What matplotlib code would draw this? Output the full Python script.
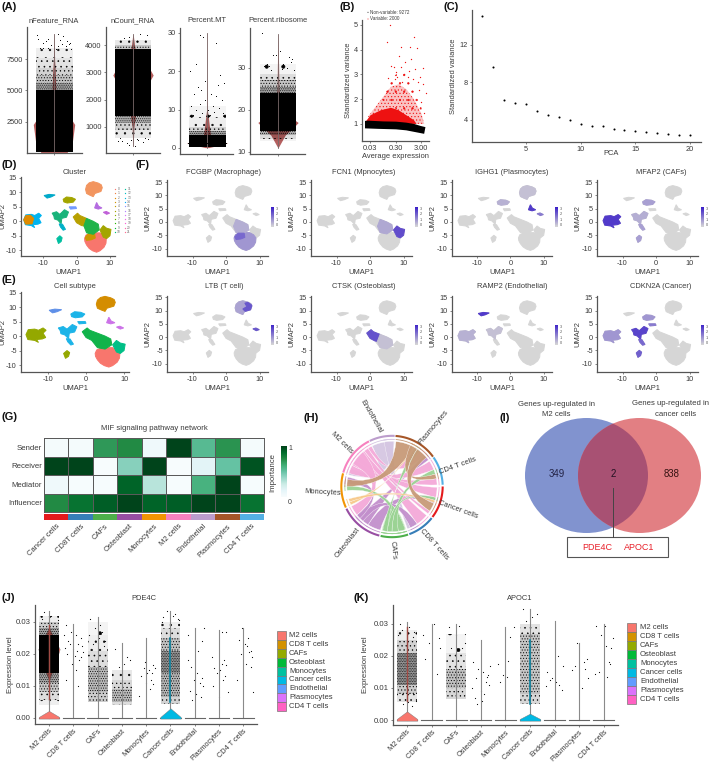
import numpy as np
import matplotlib
matplotlib.use("Agg")
import matplotlib.pyplot as plt
from matplotlib.patches import Ellipse, PathPatch, Rectangle
from matplotlib.path import Path
from matplotlib.colors import LinearSegmentedColormap, ListedColormap

plt.rcParams['font.family'] = ['Liberation Sans', 'DejaVu Sans']
plt.rcParams['hatch.linewidth'] = 0.4
plt.rcParams['axes.unicode_minus'] = False
W, H = 709, 762
INK = '#3a3a3a'
AXC = '#555555'

# ---------- (A) QC clouds: (low, high, stipple level; 0 = solid)
A_TITLES = ['nFeature_RNA', 'nCount_RNA', 'Percent.MT', 'Percent.ribosome']
A_YTICKS = [[2500, 5000, 7500], [1000, 2000, 3000, 4000], [0, 10, 20, 30], [10, 20, 30]]
A_BANDS = [
    [(150, 5000, 0), (5000, 5600, 16), (5600, 6200, 11), (6200, 6800, 8), (6800, 7600, 5), (7600, 8400, 3)],
    [(1400, 3850, 0), (1150, 1400, 14), (900, 1150, 8), (600, 900, 4), (3850, 4000, 10), (4000, 4180, 4)],
    [(0.2, 3.5, 0), (3.5, 4.5, 16), (4.5, 5.5, 8), (5.5, 8, 3), (8, 11, 2)],
    [(15, 24, 0), (24, 25.5, 16), (25.5, 27, 10), (27, 28.5, 6), (28.5, 31, 2), (14, 15, 14), (13, 14, 6), (12.5, 13, 2)],
]
A_VIOLIN_Y = [[40, 1000, 2300, 3500, 5000, 6500, 7500, 9500],
              [300, 1000, 1700, 2400, 2900, 3400, 3900, 4400],
              [0.1, 1.0, 1.3, 1.6, 3, 10, 20, 30],
              [11, 14, 16, 17, 18, 20, 25, 38]]
A_VIOLIN_W = [[.7, 1.0, 1.12, .6, .1, .07, .03, .01],
              [.01, .05, .2, .7, 1.12, .7, .1, .01],
              [.1, .9, 1.12, .8, .2, .02, .01, .01],
              [.01, .4, .9, 1.12, .8, .2, .05, .01]]
A_OUT_X = [[-.9, -.3, .5, .8, -.6, .2, -.75, .35, .65, -.15, .9, -.45, .1, -.85, .7, -.3, .45, -.6, .85, 0.2],
           [.4, -.2, .75, -.5, .1, -.2, .55, -.6, -.85, .85, -.35, .3, .65, -.7, .2, -.1],
           [-.4, -.2, .5, -.6, -.9, .7, -.1, -.5, .9, .6, -.3, .2, .5, -.7, -.1, .8, -.4, .3, -.85, .05, .65, -.6, .4, -.25, .85, -.75, .15],
           [-.9, .1, -.1, -.3, .6, .8, .3, -.6, -.8, .5, .9, -.4, .2, .7, -.5]]
A_OUT_Y = [[9400, 9100, 9300, 8700, 8800, 8500, 8400, 9000, 8500, 8600, 8300, 8900, 8300, 9100, 8900, 8400, 8700, 8350, 8800, 9500],
           [4400, 4300, 4350, 4250, 300, 350, 450, 480, 500, 550, 420, 520, 600, 580, 560, 530],
           [29.5, 29, 27.5, 22, 20, 19, 17.5, 16, 17, 16.5, 15, 14, 13.5, 14, 12.5, 12.5, 11.5, 11, 11, 10, 10.5, 10, 9.5, 9, 9, 8.5, 8.5],
           [38.3, 34, 33, 33, 32.5, 32, 31, 31, 30.5, 30, 29.5, 29.5, 29.8, 31.5, 30.5]]

# ---------- (B) variable genes: log10 mean expression against variance
B_BLACK_X = [-1.72, -1.6, -1.0, -.5, -.1, .2, .45, .65, .6, .3, -.1, -.5, -1.2, -1.72]
B_BLACK_Y = [1.12, 1.13, 1.1, 1.09, 1.05, 1.0, .92, .87, .6, .66, .74, .78, .8, .82]
B_RED_X = [-1.72, -1.5, -1.1, -.7, -.4, -.1, .2, .3, -1.72]
B_RED_Y = [1.05, 1.35, 1.55, 1.65, 1.55, 1.35, 1.15, 1.0, 1.0]
B_RED2_X = [-1.6, -1.3, -1.0, -.7, -.4, -.1, .2, .5, .6, -1.3]
B_RED2_Y = [1.3, 1.7, 2.1, 2.5, 2.6, 2.4, 2.0, 1.4, 1.0, 1.0]
B_RED3_X = [-1.1, -.8, -.5, -.2, .1, .4, .55, -.5]
B_RED3_Y = [2.0, 2.7, 3.0, 3.1, 2.9, 2.3, 1.3, 1.6]
B_OUT_X = [-.74, -.87, .2, .05, -.32, .67, .57, -.4, -.6, -.15, .3, .1, -.5, -.3, -.7, 0, .25, .45, .55, -.2, -.45, -.55, .35, .15, -.05, .4, .6, -.25, -.8, .48]
B_OUT_Y = [5.0, 4.3, 4.5, 4.1, 4.1, 2.25, 3.25, 3.75, 3.3, 3.5, 4.05, 3.6, 3.1, 3.3, 3.35, 3.15, 3.2, 2.9, 2.6, 3.0, 2.9, 2.8, 2.7, 2.8, 2.9, 2.35, 1.45, 2.7, 2.85, 1.9]

# ---------- (C) elbow plot
C_PC = list(range(1, 21))
C_SD = [15.1, 9.6, 6.1, 5.85, 5.7, 4.9, 4.55, 4.35, 4.0, 3.55, 3.4, 3.35, 3.05, 2.9, 2.85, 2.7, 2.65, 2.5, 2.4, 2.4]

# ---------- (D,E,F) UMAP islands, outlines
caf = [(-15.8, .5), (-15.2, 2.2), (-13.5, 2.4), (-12.5, 2.0), (-11.3, 2.8), (-10.5, 2.0), (-11.3, 1.0), (-10.6, -.5), (-11.5, -1.0), (-13, -1.2), (-12.5, -2.2), (-13.5, -1.5), (-15.3, -1.2)]
caf_core = [(-15.8, .5), (-15.2, 1.9), (-13.8, 2.1), (-12.8, 1.0), (-13.3, -.9), (-15.2, -1.0)]
tcell = [(2.7, 11), (3.0, 12.4), (3.8, 13.3), (5, 13.7), (6.5, 13.2), (7.4, 12.6), (7.7, 11.6), (7.3, 10.3), (5.5, 9.6), (5, 8.5), (4, 9), (3, 9.6)]
tcell_r = [(5.6, 12.8), (6.5, 13.1), (7.7, 12), (7.3, 10.3), (5.7, 9.7), (5.0, 10.6), (6.2, 11.5)]
cancer = [(2.4, -6), (2.8, -4.8), (3.8, -4.2), (5.4, -4), (7, -4), (8.2, -4.8), (8.9, -6), (8.8, -7.6), (8.2, -9), (7, -10.2), (6, -10.7), (4.8, -10.2), (3.8, -9.4), (3, -8.2), (2.5, -7)]
mac_left = [(2.6, -5.6), (3.6, -4.2), (5.4, -4.2), (5.6, -5.8), (4.4, -6.4), (3, -6.6)]
m2 = [(-1, 1.5), (.3, 2.8), (1, 2), (3, 1), (5, 0), (6.5, -1), (6.8, -3), (5, -4.5), (3, -4), (1.5, -1.5), (0, -.5)]
m2_up = [(-1, 1.5), (.3, 2.8), (1, 2), (3, 1), (3.4, -1.8), (1.5, -1.5), (0, -.5)]
m2_low = [(3, 1), (5, 0), (6.5, -1), (6.8, -3), (5, -4.5), (3, -4), (2.2, -1.6)]
mono = [(7, -3), (8, -1.5), (9, -2.4), (10.3, -2.8), (10, -5), (9, -6), (8, -5.5)]
cy_top = [(-4, 7.6), (-3, 8.4), (-1.4, 8.2), (-.3, 7.6), (-1, 6.6), (-2.8, 6.3), (-3.8, 6.7)]
cy_mid = [(-7.3, 2.8), (-6, 3.3), (-5, 2.4), (-3.6, 4), (-2.4, 3.2), (-3, 1.4), (-4.4, 1), (-4.6, -.9), (-5.6, .4), (-6.6, .8), (-6.8, 1.9)]
cy_tail = [(-5.2, -.9), (-4.2, -1), (-3.3, -2.8), (-4, -3.1), (-4.8, -2)]
cy_side = [(-2.2, 5), (-.2, 5), (.0, 4.4), (-1.8, 4.2)]
endo = [(-9.7, 8.9), (-8.2, 9.3), (-6.4, 9.1), (-7.6, 8.4), (-8.8, 8)]
cafs2 = [(-5.9, -6), (-5, -5), (-4.3, -5.7), (-4.6, -7), (-5.4, -7.7)]
plas1 = [(5.4, 4.6), (6, 6.5), (6.6, 5.2), (7.6, 4.6), (6.5, 4.2)]
plas2 = [(8, 3.1), (8.9, 3.4), (9.9, 2.8), (9, 2.4)]
BASE_ISLANDS = [caf, tcell, cancer, m2, mono, cy_top, cy_mid, cy_tail, cy_side, endo, cafs2, plas1, plas2]

D_ISLANDS = [caf, caf_core, tcell, cancer, mac_left, m2_up, m2_low, mono, cy_top, cy_mid, cy_tail, cy_side, endo, cafs2, plas1, plas2]
D_COLORS = ['#00b4f0', '#e08b00', '#f2955f', '#f8766d', '#c99700', '#b8a000', '#1fb34a', '#a3a500', '#a3a500', '#19b37a', '#00b0c8', '#7099ff', '#00a9c9', '#00bfa0', '#b46be0', '#c060d8']
E_ISLANDS = [caf, tcell, cancer, m2, mono, cy_top, cy_mid, cy_tail, cy_side, endo, cafs2, plas1, plas2]
E_COLORS = ['#94a800', '#d48d00', '#f8766d', '#10b34a', '#00bf86', '#1cb4e8', '#1cb4e8', '#1cb4e8', '#1cb4e8', '#5e8fe8', '#94a800', '#cc72e8', '#cc72e8']

F_TITLES = ['FCGBP (Macrophage)', 'FCN1 (Mpnocytes)', 'IGHG1 (Plasmocytes)', 'MFAP2 (CAFs)',
            'LTB (T cell)', 'CTSK (Osteoblast)', 'RAMP2 (Endothelial)', 'CDKN2A (Cancer)']
F_LEVELS = [
    [(cancer, .35), (m2_low, .22), (mac_left, .6)],
    [(m2_low, .25), (mono, .75)],
    [(tcell, .12), (cy_top, .2), (plas1, .85), (plas2, .5)],
    [(caf, .85), (cy_mid, .22), (cy_top, .3), (cy_tail, .3), (cafs2, .3)],
    [(tcell, .28), (tcell_r, .7), (plas2, .7)],
    [(m2_up, .72), (m2_low, .12)],
    [(endo, .85), (caf, .2), (cy_mid, .12)],
    [(cy_mid, .8), (cy_tail, .6), (cafs2, .65), (caf, .35), (cy_top, .35), (cy_side, .5)],
]

CLUSTER_COLORS = ['#f8766d', '#ee8042', '#e18a00', '#d09400', '#be9c00', '#a8a400', '#8cab00', '#5bb300', '#24b700', '#00ba38',
                  '#00be70', '#00c097', '#00bfc4', '#00bbda', '#00acfc', '#8b93ff', '#b385ff', '#d575fe', '#ef67eb', '#fb61d7', '#ff65ae', '#ff6c91']

# ---------- (G) signalling roles
G_ROLES = ['Sender', 'Receiver', 'Mediator', 'Influencer']
G_CELLS = ['Cancer cells', 'CD8T cells', 'CAFs', 'Osteoblast', 'Monocytes', 'M2 cells', 'Endothelial', 'Plasmocytes', 'CD4 T cells']
G_SENDER = [.02, .02, .7, .75, .06, 1, .55, .72, .02]
G_RECEIVER = [1, 1, 0, .42, 1, 0, .14, .5, .95]
G_MEDIATOR = [.06, .01, .01, .9, .3, .01, .6, 1, .01]
G_INFLUENCER = [.75, .85, .92, 1, .9, .92, 1, 1, .85]
G_COLORS = ['#e41a1c', '#377eb8', '#4daf4a', '#984ea3', '#f29403', '#f781bf', '#bc9dcc', '#a65628', '#54b0e4']

# ---------- (H) chord sectors and ribbons, in degrees
H_NAMES = ['Cancer cells', 'CD8 T cells', 'CAFs', 'Osteoblast', 'Monocytes', 'M2 cells', 'Endothelial', 'Plasmocytes', 'CD4 T cells']
H_START = [0, -38.5, -71.5, -104.5, -155.5, 164, 116, 86, 35]
H_END = [-37, -70, -103, -154, -195, 117, 87, 36, 2]
H_LABEL_X = [458, 434, 393, 348, 323, 342, 370.7, 433, 458]
H_LABEL_Y = [510, 544, 550, 543, 492, 443, 416.7, 427, 466]
H_LABEL_ROT = [-20, -48, -85, 52, -3, -45, -60, 50, 20]
PINK, LAV, BRN, GRN, PUR, ORG = '#f4a9d8', '#d5c6e2', '#c79a78', '#9bd394', '#c28fcc', '#f7c98a'
H_RIBBONS = [
    (LAV, 116, 87, 165, 156), (LAV, 100, 88, -66, -70),
    (PUR, -105, -122, -14, -22), (PUR, -122, -138, 36, 44), (PUR, -130, -140, -56, -66), (PUR, -135, -141, -183, -192),
    (PINK, 163, 152, 34, 22), (PINK, 152, 144, 10, 2), (PINK, 144, 136, -1, -14), (PINK, 136, 128, -40, -56),
    (PINK, 128, 122, -33, -37), (PINK, 122, 117, 44, 60), (PINK, 150, 130, -141, -154),
    (GRN, -73, -82, -175, -181), (GRN, -82, -90, 22, 16), (GRN, -90, -96, -14, -18), (GRN, -96, -102, 52, 60),
    (ORG, -156, -160, 61, 64), (ORG, -160, -164, -18, -21),
    (BRN, 85, 62, 180, 171), (BRN, 66, 56, 16, 10), (BRN, 56, 40, -22, -33),
]

# ---------- (I) Venn
I_COUNTS = [349, 2, 838]

# ---------- (J,K) violins
VL_CELLS = ['M2 cells', 'CD8 T cells', 'CAFs', 'Osteoblast', 'Monocytes', 'Cancer cells', 'Endothelial', 'Plasmocytes', 'CD4 T cells']
VL_COLORS = ['#f8766d', '#d39200', '#93aa00', '#00ba38', '#00c19f', '#00b9e3', '#619cff', '#db72fb', '#ff61c3']
J_MAX = [.0335, .0295, .0315, .0235, .025, .0335, .028, .0275, .028]
K_MAX = [.0305, .030, .030, .025, .029, .0345, .031, .024, .030]
J_BANDS = [
    [(.014, .026, 0), (.026, .028, 16), (.028, .03, 9), (.03, .032, 3), (.011, .014, 16), (.008, .011, 10), (.0055, .008, 6), (.004, .0055, 3)],
    [], [(.008, .016, 12), (.005, .008, 9), (.016, .021, 6), (.021, .026, 3), (.026, .03, 2)], [(.005, .009, 12), (.004, .005, 6), (.009, .012, 7), (.012, .015, 4)], [],
    [(.014, .021, 18), (.0065, .014, 13), (.0045, .0065, 8), (.021, .025, 11), (.025, .028, 6), (.028, .03, 3)], [], [], [],
]
K_BANDS = [
    [(.011, .021, 18), (.008, .011, 9), (.0055, .008, 5), (.021, .025, 8), (.025, .028, 3)],
    [], [(.01, .016, 11), (.0065, .01, 7), (.016, .021, 5), (.021, .027, 2)], [], [],
    [(.008, .027, 10), (.005, .008, 7), (.027, .03, 5)], [], [], [],
]
J_SPARSE_DX = [[-.3, .1, .35, -.2], [-.3, -.1, .1, .3, -.2, .2, .35, -.35, 0, .15, -.25, .05, .3, -.15, .25, -.05, .38, .12, -.3, .2, -.38],
               [-.3, .1, -.1, .2, -.35, .05, .3, -.2, .25, 0], [-.3, .2, .35, -.1, .1], [-.1, .1, .3, .25, -.2, .05, .38, -.3, 0, .2, .15, -.05, .3],
               [-.3, .1, .3, -.15, .35, -.35, .2], [-.3, -.15, .1, .3, -.05, .2, .35, -.2, .05, .25, -.1, .15, .3, -.3, .38],
               [-.3, .2, .1, .3, -.2, .05, -.1, .25, .15, -.25, .35, 0, .1, .3], [-.2, .05, .15, .3, -.1, .2, .25, -.05, .35, .1, .3, -.25, .38]]
J_SPARSE_Y = [[.031, .032, .0305, .033], [.029, .027, .026, .025, .024, .023, .0225, .022, .0215, .021, .02, .0195, .019, .023, .018, .017, .0205, .015, .012, .01, .026],
              [.031, .029, .028, .027, .026, .025, .024, .023, .0225, .0235], [.0215, .019, .018, .016, .017], [.0155, .015, .0165, .014, .013, .014, .0155, .007, .011, .012, .009, .0175, .0105],
              [.0315, .032, .031, .0335, .0305, .03, .0325], [.018, .016, .014, .0125, .012, .011, .01, .0085, .0075, .0065, .0055, .021, .024, .026, .028],
              [.019, .018, .017, .0165, .0155, .015, .014, .013, .012, .01, .008, .0065, .027, .027], [.0245, .023, .0225, .021, .02, .025, .0205, .028, .019, .017, .016, .012, .008]]
K_SPARSE_DX = [[-.3, .1, .3, -.2, .25, -.35, .05, .2, -.15, .35], [-.35, -.1, .1, .3, -.25, .2, .35],
               [-.3, .1, .35, -.2, .25, 0], [-.3, -.1, .1, .3, -.2, .2, .35, -.35, 0, .15, -.25, .05, .38, -.15, .25], [-.3, .1, -.1, .35, .2, -.2, .05],
               [-.3, .3, .1, -.15], [-.3, -.1, .05, .2, -.35, .3, .15, -.2, .35], [-.3, .2, .3, -.15, .25, -.1, .1, .38], [-.3, -.1, .1, .3, .2, .38, -.2, .25, -.35, .05, .15]]
K_SPARSE_Y = [[.03, .029, .0275, .028, .026, .0265, .0055, .0045, .005, .006], [.0265, .024, .03, .0255, .019, .0145, .0225],
              [.029, .0295, .024, .0225, .0225, .0265], [.018, .016, .015, .014, .013, .012, .011, .01, .009, .008, .007, .006, .017, .005, .0135], [.0175, .0185, .014, .029, .026, .012, .0135],
              [.0345, .033, .032, .031], [.015, .013, .012, .011, .0105, .0095, .02, .0125, .017], [.0155, .018, .019, .017, .016, .024, .01, .013], [.0295, .0265, .023, .0225, .018, .0255, .015, .0175, .0145, .0295, .0135]]

fig = plt.figure(figsize=(W / 100, H / 100), dpi=100, facecolor='white')


def ax_px(l, t, r, b, **kw):
    return fig.add_axes([l / W, 1 - b / H, (r - l) / W, (b - t) / H], **kw)


def style(ax, size=5.3):
    for s in ('top', 'right'):
        ax.spines[s].set_visible(False)
    for s in ('left', 'bottom'):
        ax.spines[s].set_color(AXC)
        ax.spines[s].set_linewidth(.9)
    ax.tick_params(length=1.5, width=.5, color=AXC, labelsize=size, labelcolor=INK, pad=1.5)
    ax.patch.set_alpha(0)


def bands(ax, x0, hw, spec, color='black', z=2):
    for lo, hi, n in spec:
        if n == 0:
            ax.bar(x0, hi - lo, bottom=lo, width=2 * hw, color=color, lw=0, zorder=z)
        else:
            ax.bar(x0, hi - lo, bottom=lo, width=2 * hw, facecolor=(0, 0, 0, n / 45), edgecolor=color,
                   hatch='.' * max(1, round(n * .55)), lw=0, zorder=z)


ov = ax_px(0, 0, W, H)
ov.set_xlim(0, W)
ov.set_ylim(H, 0)
ov.axis('off')
ov.set_zorder(5)


def T(x, y, s, size=5.4, **kw):
    kw.setdefault('ha', 'center')
    kw.setdefault('va', 'center')
    kw.setdefault('color', INK)
    ov.text(x, y, s, fontsize=size, **kw)


for s, x, y in [('(A)', 1, 7), ('(B)', 340, 7), ('(C)', 443, 7), ('(D)', 1, 165), ('(E)', 1, 280), ('(F)', 135, 165),
                ('(G)', 1, 417), ('(H)', 304, 418), ('(I)', 500, 418), ('(J)', 1, 598), ('(K)', 354, 598)]:
    T(x, y, s, size=8, ha='left', weight='bold', color='#111111')

# ----- A
A_BOX = [(27, 27, 82, 153, 54, 18.5, (39, 10040)), (106, 27, 160, 153, 133, 18, (48, 4660)),
         (180, 28, 233, 154, 207, 18.5, (-1.57, 31.3)), (250, 28, 305, 154, 278, 18, (9.5, 39.5))]
for i, (l, t, r, b, c, h, yl) in enumerate(A_BOX):
    ax = ax_px(l, t, r, b)
    style(ax)
    ax.fill_betweenx(A_VIOLIN_Y[i], -np.array(A_VIOLIN_W[i]), A_VIOLIN_W[i], color='#b5605f', lw=0, zorder=1)
    bands(ax, 0, 1, A_BANDS[i])
    ax.scatter(A_OUT_X[i], A_OUT_Y[i], s=.5, c='black', lw=0, zorder=2)
    ax.plot([0, 0], [A_VIOLIN_Y[i][0], A_VIOLIN_Y[i][-1]], color='#7a6a6a', lw=.6, zorder=3)
    if i == 2:
        ax.plot([-1.05, 1.05], [1.3, 1.3], color='black', lw=.7, zorder=3)
    ax.set_xlim((l - c) / h, (r - c) / h)
    ax.set_ylim(*yl)
    ax.set_yticks(A_YTICKS[i])
    ax.set_xticks([0])
    ax.set_xticklabels([])
    T((l + r) / 2 + (c - (l + r) / 2) * .9, 20.5, A_TITLES[i])

# ----- B
ax = ax_px(362, 20, 429, 141)
style(ax)
ax.set_xscale('log')
pw = lambda v: 10 ** np.array(v)
ax.fill(pw(B_RED3_X), B_RED3_Y, facecolor='none', edgecolor='#ee1111', hatch='.' * 2, lw=0, zorder=1)
ax.fill(pw(B_RED2_X), B_RED2_Y, facecolor=(.93, .07, .07, .25), edgecolor='#ee1111', hatch='.' * 5, lw=0, zorder=1)
ax.fill(pw(B_RED_X), B_RED_Y, color='#ee1111', lw=0, zorder=2)
ax.scatter(pw(B_OUT_X), B_OUT_Y, s=.9, c='#ee1111', lw=0, zorder=2)
ax.fill(pw(B_BLACK_X), B_BLACK_Y, color='black', lw=0, zorder=3)
ax.set_xlim(10 ** -1.837, 10 ** .79)
ax.set_ylim(.31, 5.19)
ax.set_yticks([1, 2, 3, 4, 5])
ax.set_xticks([.03, .3, 3])
ax.set_xticklabels(['0.03', '0.30', '3.00'])
ax.minorticks_off()
ax.set_xlabel('Average expression', fontsize=5.4, color=INK, labelpad=.5)
ax.set_ylabel('Standardized variance', fontsize=5.4, color=INK, labelpad=1.5)
T(370, 12.3, 'Non-variable: 9272', size=3.3, ha='left')
T(370, 19, 'Variable: 2000', size=3.3, ha='left')
ov.scatter([368, 368], [12.3, 19], s=.5, c=['black', '#ee1111'], lw=0)

# ----- C
ax = ax_px(472, 10, 701, 142)
style(ax)
ax.scatter(C_PC, C_SD, s=2.2, c='black', lw=0)
ax.set_xlim(.06, 21)
ax.set_ylim(1.65, 15.7)
ax.set_yticks([4, 8, 12])
ax.set_xticks([5, 10, 15, 20])
T(611, 153.5, 'PCA')
ax.set_ylabel('Standardized variance', fontsize=5.4, color=INK, labelpad=2)


def umap(ax, xl, yl, ypad=.5):
    style(ax)
    ax.set_xlim(*xl)
    ax.set_ylim(*yl)
    ax.set_xticks([-10, 0, 10])
    ax.set_yticks([-10, -5, 0, 5, 10, 15])
    ax.set_xlabel('UMAP1', fontsize=5.4, color=INK, labelpad=1.5)
    ax.set_ylabel('UMAP2', fontsize=5.4, color=INK, labelpad=ypad)


def island(ax, pts, color, z=2):
    xs, ys = zip(*pts)
    ax.fill(xs, ys, color=color, lw=.7, zorder=z)


# ----- D
ax = ax_px(21, 177, 115, 256)
umap(ax, (-16.6, 11.5), (-12, 15.3), -.5)
for p, c in zip(D_ISLANDS, D_COLORS):
    island(ax, p, c)
T(75, 173, 'Cluster')
for k, c in enumerate(CLUSTER_COLORS):
    col, row = k // 11, k % 11
    x = 114.5 + col * 10.5
    y = 189 + row * 4.3
    ov.scatter([x], [y], s=.9, c=c, lw=0)
    T(x + 4, y, str(k), size=2.3, color='#666666')

# ----- E
ax = ax_px(21, 292, 129, 372)
umap(ax, (-17.1, 11.3), (-12.4, 15.2), -.5)
for p, c in zip(E_ISLANDS, E_COLORS):
    island(ax, p, c)
T(75, 287, 'Cell subtype')

# ----- F
F_COLS = [(167, 268, 224, 271), (311, 412, 364, 415), (452, 552, 512, 555), (597, 698, 661, 701)]
F_ROWS = [(180, 256, 172, 207, (-12.8, 15.8)), (296, 372, 287, 325, (-13.2, 15.5))]
fcmap = LinearSegmentedColormap.from_list('feat', ['#d6d6d6', '#3a1fc8'])
for k, title in enumerate(F_TITLES):
    l, r, cx, cbx = F_COLS[k % 4]
    t, b, ty, cby, yl = F_ROWS[k // 4]
    ax = ax_px(l, t, r, b)
    umap(ax, (-17.6, 12.5), yl)
    for p in BASE_ISLANDS:
        island(ax, p, '#d6d6d6')
    for p, lev in F_LEVELS[k]:
        island(ax, p, fcmap(lev), z=3)
    T(cx, ty, title)
    cb = ax_px(cbx, cby, cbx + 3, cby + 20)
    cb.imshow(np.linspace(1, 0, 32)[:, None], aspect='auto', cmap=fcmap, vmin=0, vmax=1)
    cb.axis('off')
    for j, lab in enumerate(['3', '2', '1', '0']):
        T(cbx + 5.5, cby + 2 + j * 5.3, lab, size=2.8, color='#555555')

# ----- G
ax = ax_px(44, 438, 264, 512)
G_VALUES = np.array([G_SENDER, G_RECEIVER, G_MEDIATOR, G_INFLUENCER])
ax.pcolormesh(G_VALUES, cmap='BuGn', vmin=0, vmax=1, edgecolors='#5a5a5a', linewidth=.6)
ax.invert_yaxis()
ax.set_yticks(np.arange(4) + .5)
ax.set_yticklabels(G_ROLES)
ax.set_xticks([])
ax.tick_params(length=0, labelsize=5.6, labelcolor=INK, pad=1.5)
for s in ax.spines.values():
    s.set_color('#5a5a5a')
    s.set_linewidth(.7)
st = ax_px(44, 514, 264, 520)
st.pcolormesh([list(range(9))], cmap=ListedColormap(G_COLORS), vmin=-.5, vmax=8.5)
for s in st.spines.values():
    s.set_visible(False)
st.set_yticks([])
st.set_xticks(np.arange(9) + .5)
st.set_xticklabels(G_CELLS, rotation=45, ha='right', va='top', rotation_mode='anchor')
st.tick_params(length=0, labelsize=5.5, labelcolor=INK, pad=2)
T(154, 429, 'MIF signaling pathway network', size=5.6)
cb = ax_px(281, 446, 287, 497)
cb.imshow(np.linspace(1, 0, 64)[:, None], aspect='auto', cmap='BuGn', vmin=0, vmax=1)
cb.axis('off')
T(273, 473, 'Importance', rotation=90, size=5.6)
T(290, 448, '1', size=5)
T(290, 503, '0', size=5)

# ----- H
ax = ax_px(332, 426.5, 452, 546.5)
ax.set_xlim(-1.184, 1.184)
ax.set_ylim(-1.184, 1.184)
ax.axis('off')


def arc(a, b, r=1.0, n=24):
    th = np.radians(np.linspace(a, b, n))
    return np.c_[r * np.cos(th), r * np.sin(th)]


def ribbon(ax, col, a1, a2, b1, b2):
    pa, pb = arc(a1, a2, R_IN), arc(b1, b2, R_IN)
    v = list(pa) + [(0, 0), pb[0]] + list(pb[1:]) + [(0, 0), pa[0]]
    c = [Path.MOVETO] + [Path.LINETO] * (len(pa) - 1) + [Path.CURVE3, Path.CURVE3] + [Path.LINETO] * (len(pb) - 1) + [Path.CURVE3, Path.CURVE3]
    ax.add_patch(PathPatch(Path(v, c), facecolor=col, edgecolor='white', lw=.25, alpha=.95))
    for x0, x1 in ((a1, a2), (b1, b2)):
        xy = arc(x0, x1, .93, 8)
        ax.plot(xy[:, 0], xy[:, 1], color=col, lw=.6)


R_IN = .89
ribbon(ax, GRN, -72, -103, -72, -103)
for r in H_RIBBONS:
    ribbon(ax, *r)
for i, name in enumerate(H_NAMES):
    xy = arc(H_START[i], H_END[i])
    ax.plot(xy[:, 0], xy[:, 1], color=G_COLORS[i], lw=1.5, solid_capstyle='butt')
    T(H_LABEL_X[i], H_LABEL_Y[i], name, size=5.4, rotation=H_LABEL_ROT[i], rotation_mode='anchor')

# ----- I
e1 = Ellipse((586.5, 475.5), 123, 115, facecolor='#8193cf', lw=0)
e2 = Ellipse((639.5, 475.5), 123, 115, facecolor='#e27f83', lw=0)
ov.add_patch(e1)
ov.add_patch(e2)
e3 = Ellipse((586.5, 475.5), 123, 115, facecolor='#a85173', lw=0)
ov.add_patch(e3)
e3.set_clip_path(Ellipse((639.5, 475.5), 123, 115, transform=ov.transData))
T(557, 474, str(I_COUNTS[0]), size=6.9, color='#222244')
T(613, 474, str(I_COUNTS[1]), size=6.9, color='#221122')
T(672, 474, str(I_COUNTS[2]), size=6.9, color='#331111')
ov.plot([613, 613], [488, 537], color='#444444', lw=.7)
ov.add_patch(Rectangle((567, 537), 101, 20, facecolor='white', edgecolor='#555555', lw=.8))
T(597, 547.5, 'PDE4C', size=6.5, color='#e8202a')
T(639, 547.5, 'APOC1', size=6.5, color='#e8202a')
T(556, 404, 'Genes up-regulated in', size=5.6)
T(556, 414.5, 'M2 cells', size=5.6)
T(671, 403.5, 'Genes up-regulated in', size=5.6)
T(676, 414.5, 'cancer cells', size=5.6)


# ----- J, K
def violin(box, title, tx, ylim, xlim, maxes, bnds, dx, dy, ylab, base, legend):
    ax = ax_px(*box)
    style(ax, 5.6)
    for i in range(9):
        ax.plot([i, i], [0, maxes[i]], color='#8a8a8a', lw=.8, zorder=3)
        ax.plot([i - .42, i + .42], [0, 0], color='#666666', lw=.8, zorder=3)
        bands(ax, i, .41, bnds[i])
        ax.scatter(i + np.array(dx[i]), dy[i], s=.7, c='black', lw=0, zorder=2)
    for i, ys, ws in base:
        ax.fill_betweenx(ys, i - np.array(ws), i + np.array(ws), facecolor=VL_COLORS[i], edgecolor='#777777', lw=.3, zorder=4 if ys[-1] < .01 else 1)
    ax.plot([0, 0], [.006, .029], color='#a04a44', lw=1, zorder=3)
    ax.plot([5, 5], [.005, .025], color='#00809f', lw=1.1, zorder=3)
    ax.set_xlim(*xlim)
    ax.set_ylim(*ylim)
    ax.set_yticks([0, .01, .02, .03])
    ax.set_yticklabels(['0.00', '0.01', '0.02', '0.03'])
    ax.set_xticks(range(9))
    ax.set_xticklabels(VL_CELLS, rotation=45, ha='right', va='top', rotation_mode='anchor')
    ax.tick_params(axis='x', labelsize=5.3, pad=1)
    ax.set_ylabel('Expression level', fontsize=5.6, color=INK, labelpad=ylab)
    T(tx, 598, title, size=5.4)
    lx, ly, lh, tx2 = legend
    for i, (c, lab) in enumerate(zip(VL_COLORS, VL_CELLS)):
        ov.add_patch(Rectangle((lx, ly + i * lh), 9, lh, facecolor=c, edgecolor='#777777', lw=.5))
        T(tx2, ly + (i + .5) * lh, lab, size=5.5, ha='left')


TRI_Y = [-.0002, .0003, .0022]
M2_TRI_W = [.42, .42, .0]
J_CANCER_W = [.42, .42, .0]
violin((35, 605, 257, 724), 'PDE4C', 144, (-.0019, .0353), (-.576, 8.56), J_MAX, J_BANDS, J_SPARSE_DX, J_SPARSE_Y, 1.5,
       [(0, TRI_Y, M2_TRI_W), (0, [.012, .018, .0215, .025, .028], [.01, .3, .44, .2, .01]),
        (5, [-.0002, .0003, .003], J_CANCER_W)], (277, 631, 8.9, 289))
violin((393, 605, 618, 725), 'APOC1', 520, (-.00156, .0359), (-.57, 8.58), K_MAX, K_BANDS, K_SPARSE_DX, K_SPARSE_Y, 3.5,
       [(0, [-.0002, .0003, .0027], M2_TRI_W), (5, [-.0002, .0003, .002], [.42, .42, 0])], (627, 623, 9.0, 640))

fig.savefig('out.png', dpi=100)
